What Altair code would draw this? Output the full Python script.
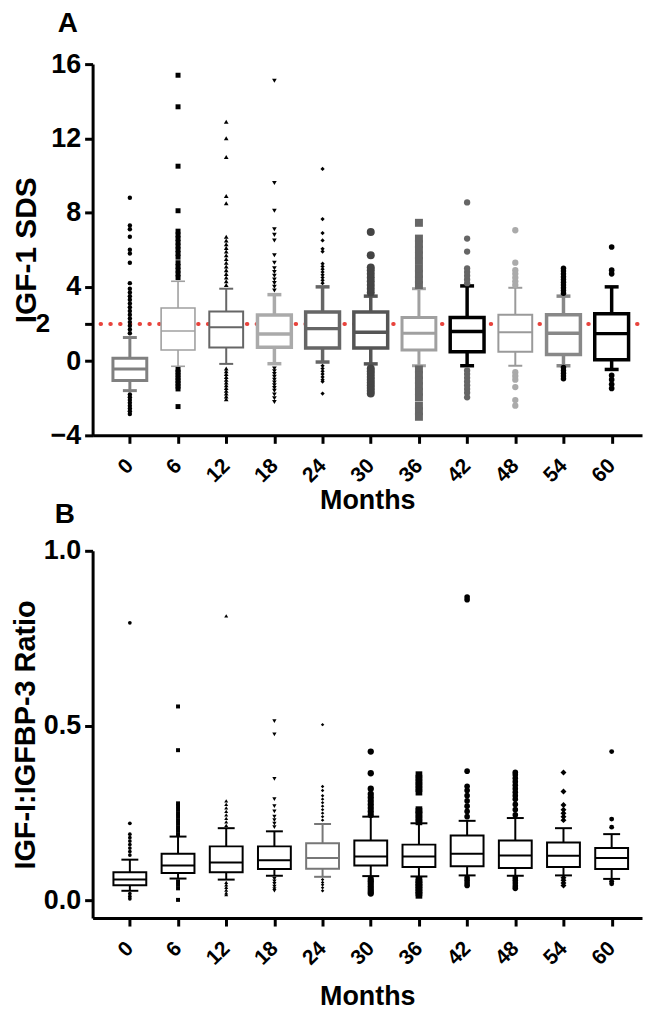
import altair as alt
import pandas as pd

months = [0, 6, 12, 18, 24, 30, 36, 42, 48, 54, 60]

# ---------- Panel A: IGF-1 SDS ----------
a_q1 = [-1.05, 0.60, 0.73, 0.75, 0.70, 0.70, 0.60, 0.50, 0.50, 0.36, 0.07]
a_med = [-0.42, 1.62, 1.82, 1.46, 1.75, 1.55, 1.50, 1.60, 1.55, 1.50, 1.48]
a_q3 = [0.15, 2.86, 2.67, 2.48, 2.65, 2.65, 2.35, 2.35, 2.50, 2.50, 2.55]
a_wlo = [-1.59, -0.28, -0.15, -0.14, -0.05, -0.15, -0.25, -0.25, -0.25, -0.25, -0.45]
a_whi = [1.27, 4.30, 3.90, 3.58, 4.00, 3.50, 3.90, 4.05, 3.95, 3.50, 4.00]
a_box_color = ["#808080", "#a0a0a0", "#666666", "#aaaaaa", "#666666", "#555555",
               "#a0a0a0", "#000000", "#9a9a9a", "#888888", "#000000"]
a_box_width = [3, 1.6, 2, 3.5, 3.5, 3.5, 3, 3.5, 2, 3.5, 3.5]
a_out_shape = ["circle", "square", "triangle-up", "triangle-down", "diamond", "circle",
               "square", "circle", "circle", "circle", "circle"]
a_out_color = ["#000000", "#000000", "#000000", "#000000", "#000000", "#444444",
               "#666666", "#666666", "#aaaaaa", "#000000", "#000000"]
a_out_size = [20, 25, 22, 22, 18, 64, 64, 40, 40, 30, 32]
a_outliers = [
    [1.5, 1.7, 1.9, 2.1, 2.3, 2.5, 2.7, 2.9, 3.1, 3.3, 3.5, 3.7, 3.9, 4.2, 5.3, 5.8, 6.0, 6.7, 7.1, 7.3, 8.8,
     -1.8, -1.95, -2.1, -2.25, -2.4, -2.55, -2.7, -2.85],
    [4.5, 4.7, 4.9, 5.1, 5.3, 5.6, 5.8, 6.0, 6.2, 6.4, 6.6, 6.8, 7.0, 8.1, 10.5, 13.7, 15.4,
     -0.45, -0.6, -0.75, -0.9, -1.05, -1.2, -1.35, -1.5, -2.45],
    [4.1, 4.3, 4.5, 4.7, 4.9, 5.1, 5.3, 5.5, 5.7, 5.9, 6.1, 6.3, 6.5, 6.7, 8.5, 8.9, 11.0, 12.0, 12.9,
     -0.4, -0.55, -0.7, -0.85, -1.0, -1.15, -1.3, -1.45, -1.6, -1.75, -1.9, -2.05],
    [3.8, 4.0, 4.2, 4.4, 4.6, 4.8, 5.0, 5.3, 5.7, 6.5, 6.8, 7.1, 8.1, 9.6, 15.1,
     -0.4, -0.55, -0.7, -0.85, -1.0, -1.15, -1.3, -1.45, -1.6, -1.8, -2.0, -2.2],
    [4.2, 4.35, 4.5, 4.65, 4.8, 4.95, 5.1, 5.25, 5.9, 6.05, 6.5, 6.9, 7.65, 10.35,
     -0.25, -0.4, -0.55, -0.7, -0.85, -1.0, -1.1, -1.75],
    [3.7, 3.9, 4.1, 4.3, 4.5, 4.7, 4.9, 5.05, 5.7, 6.95,
     -0.4, -0.55, -0.7, -0.85, -1.0, -1.15, -1.3, -1.45, -1.6, -1.75],
    [4.1, 4.4, 4.7, 5.0, 5.4, 5.7, 6.0, 6.3, 6.6, 7.45,
     -0.45, -0.75, -1.05, -1.35, -1.65, -1.95, -2.4, -2.7, -3.0],
    [4.2, 4.4, 4.6, 4.8, 5.0, 5.9, 6.6, 8.55,
     -0.5, -0.7, -0.9, -1.1, -1.3, -1.5, -1.7, -1.95],
    [4.1, 4.3, 4.5, 4.7, 4.9, 5.3, 7.05,
     -0.6, -0.8, -1.0, -1.4, -2.1, -2.4],
    [3.65, 3.8, 3.95, 4.1, 4.25, 4.4, 4.55, 4.7, 4.85, 5.0,
     -0.35, -0.5, -0.65, -0.8, -0.95],
    [4.7, 4.9, 6.15, -0.77, -1.0, -1.25, -1.47],
]
a_ticks = [-4, 0, 2, 4, 8, 12, 16]

# ---------- Panel B: IGF-I:IGFBP-3 ratio ----------
b_q1 = [0.044, 0.079, 0.081, 0.090, 0.091, 0.100, 0.096, 0.098, 0.093, 0.096, 0.090]
b_med = [0.060, 0.100, 0.109, 0.115, 0.122, 0.126, 0.126, 0.134, 0.129, 0.128, 0.122]
b_q3 = [0.081, 0.134, 0.155, 0.155, 0.164, 0.172, 0.160, 0.186, 0.172, 0.166, 0.150]
b_wlo = [0.028, 0.063, 0.060, 0.071, 0.068, 0.070, 0.069, 0.072, 0.071, 0.072, 0.062]
b_whi = [0.117, 0.183, 0.207, 0.198, 0.219, 0.240, 0.221, 0.228, 0.236, 0.207, 0.190]
b_box_color = ["#000000", "#000000", "#000000", "#000000", "#777777", "#000000",
               "#000000", "#000000", "#000000", "#000000", "#000000"]
b_box_width = [2, 2, 2, 2, 2, 2, 2, 2, 2, 2, 2]
b_out_shape = ["circle", "square", "triangle-up", "triangle-down", "diamond", "circle",
               "square", "circle", "circle", "diamond", "circle"]
b_out_color = ["#000000"] * 11
b_out_size = [14, 16, 16, 18, 12, 40, 45, 32, 32, 36, 24]
b_outliers = [
    [0.13, 0.14, 0.15, 0.16, 0.17, 0.18, 0.19, 0.221, 0.794, 0.02, 0.012, 0.005],
    [0.19, 0.20, 0.21, 0.22, 0.23, 0.24, 0.25, 0.26, 0.27, 0.278, 0.43, 0.555,
     0.055, 0.045, 0.035, 0.002],
    [0.215, 0.225, 0.235, 0.245, 0.255, 0.265, 0.275, 0.285, 0.814,
     0.052, 0.045, 0.038, 0.03, 0.022, 0.017],
    [0.21, 0.22, 0.23, 0.24, 0.255, 0.27, 0.29, 0.348, 0.475, 0.513,
     0.062, 0.055, 0.048, 0.04, 0.033, 0.028],
    [0.23, 0.24, 0.25, 0.26, 0.27, 0.28, 0.29, 0.30, 0.315, 0.326, 0.503,
     0.06, 0.052, 0.045, 0.037, 0.028],
    [0.245, 0.255, 0.265, 0.275, 0.285, 0.295, 0.305, 0.32, 0.364, 0.426,
     0.062, 0.055, 0.048, 0.04, 0.033, 0.026, 0.02],
    [0.225, 0.235, 0.245, 0.255, 0.26, 0.31, 0.32, 0.33, 0.34, 0.35, 0.36,
     0.06, 0.052, 0.045, 0.038, 0.03, 0.022, 0.015],
    [0.24, 0.255, 0.27, 0.285, 0.30, 0.315, 0.327, 0.37, 0.86, 0.868,
     0.065, 0.058, 0.05, 0.043],
    [0.245, 0.26, 0.275, 0.29, 0.30, 0.31, 0.32, 0.33, 0.34, 0.35, 0.36, 0.367,
     0.065, 0.058, 0.05, 0.042, 0.035],
    [0.23, 0.24, 0.25, 0.26, 0.273, 0.312, 0.366, 0.065, 0.058, 0.05, 0.043],
    [0.21, 0.233, 0.426, 0.055, 0.048],
]
b_ticks = [0, 0.5, 1.0]

FONT = "Liberation Sans"
W = 552


def panel(q1, med, q3, wlo, whi, bcol, bw, oshape, ocol, osize, outl,
          ydom, yvals, yfmt, ytitle, tsize, tpad, xtpad, h, boxw, capw,
          letter, letter_xy, extra2):
    box = pd.DataFrame({"month": months, "q1": q1, "med": med, "q3": q3,
                        "wlo": wlo, "whi": whi, "col": bcol, "sw": bw})
    rows = []
    for i, m in enumerate(months):
        for v in outl[i]:
            rows.append({"month": m, "v": v, "shape": oshape[i],
                         "col": ocol[i], "size": osize[i]})
    out = pd.DataFrame(rows)

    xs = alt.Scale(domain=[-4.02, 63.16], nice=False, zero=False)
    ys = alt.Scale(domain=ydom, nice=False, zero=False)
    x_axis = alt.Axis(values=months, labelAngle=-45, labelAlign="right",
                      labelBaseline="middle", title="Months", grid=False,
                      titlePadding=xtpad, labelPadding=19)
    lab_expr = "datum.value == 2 ? '' : datum.label" if extra2 else "datum.label"
    y_axis = alt.Axis(values=yvals, format=yfmt, title=ytitle, grid=False,
                      titlePadding=tpad, titleFontSize=tsize, labelExpr=lab_expr)

    def X():
        return alt.X("month:Q", scale=xs, axis=x_axis)

    def Y(f):
        return alt.Y(f, scale=ys, axis=y_axis)

    whisk = alt.Chart(box).mark_rule().encode(
        x=X(), y=Y("wlo:Q"), y2="whi:Q",
        color=alt.Color("col:N", scale=None),
        strokeWidth=alt.StrokeWidth("sw:Q", scale=None),
    )
    bx = alt.Chart(box).mark_bar(size=boxw, fill="white", orient="vertical").encode(
        x=X(), y=Y("q1:Q"), y2="q3:Q",
        stroke=alt.Stroke("col:N", scale=None),
        strokeWidth=alt.StrokeWidth("sw:Q", scale=None),
    )
    medl = alt.Chart(box).mark_rule(xOffset=-boxw / 2, x2Offset=boxw / 2).encode(
        x=X(), x2="month:Q", y=Y("med:Q"),
        color=alt.Color("col:N", scale=None),
        strokeWidth=alt.StrokeWidth("sw:Q", scale=None),
    )
    caplo = alt.Chart(box).mark_rule(xOffset=-capw / 2, x2Offset=capw / 2).encode(
        x=X(), x2="month:Q", y=Y("wlo:Q"),
        color=alt.Color("col:N", scale=None),
        strokeWidth=alt.StrokeWidth("sw:Q", scale=None),
    )
    caphi = alt.Chart(box).mark_rule(xOffset=-capw / 2, x2Offset=capw / 2).encode(
        x=X(), x2="month:Q", y=Y("whi:Q"),
        color=alt.Color("col:N", scale=None),
        strokeWidth=alt.StrokeWidth("sw:Q", scale=None),
    )
    pts = alt.Chart(out).mark_point(filled=True, opacity=1).encode(
        x=X(), y=Y("v:Q"),
        shape=alt.Shape("shape:N", scale=None),
        color=alt.Color("col:N", scale=None),
        size=alt.Size("size:Q", scale=None),
    )
    lab = alt.Chart(pd.DataFrame({"t": [letter]})).mark_text(
        font=FONT, fontWeight="bold", fontSize=28, align="center", baseline="top"
    ).encode(text="t:N", x=alt.value(letter_xy[0]), y=alt.value(letter_xy[1]))
    # transparent guide that reserves room on the left for the rotated title glyphs
    room = alt.Chart(pd.DataFrame({"t": [0]})).mark_rule(opacity=0).encode(
        x=alt.value(-85), y=alt.value(0), y2=alt.value(2))
    layers = [whisk, bx, medl, caplo, caphi, pts, lab, room]
    if extra2:
        ref = alt.Chart(pd.DataFrame({"y": [2]})).mark_rule(
            color="#e8433c", strokeWidth=4, strokeDash=[0.5, 9.3], strokeCap="round"
        ).encode(y=Y("y:Q"), x=alt.value(8), x2=alt.value(W))
        two = alt.Chart(pd.DataFrame({"y": [2], "t": ["2"]})).mark_text(
            font=FONT, fontWeight="bold", fontSize=26, align="center", baseline="middle"
        ).encode(y=Y("y:Q"), x=alt.value(-50), text="t:N")
        layers = [ref] + layers + [two]
    return alt.layer(*layers).properties(width=W, height=h)


pA = panel(a_q1, a_med, a_q3, a_wlo, a_whi, a_box_color, a_box_width, a_out_shape,
           a_out_color, a_out_size, a_outliers, [-4, 16], a_ticks, "d",
           "IGF-1 SDS", 30, 9, 2, 373, 34, 14, "A", (-25, -54), True)
pB = panel(b_q1, b_med, b_q3, b_wlo, b_whi, b_box_color, b_box_width, b_out_shape,
           b_out_color, b_out_size, b_outliers, [-0.05, 1.0], b_ticks, ".1f",
           "IGF-I:IGFBP-3 Ratio", 29, 3, 15, 369, 33, 17, "B", (-28, -50), False)

chart = alt.vconcat(pA, pB, spacing=116, bounds="flush").configure_view(
    stroke=None
).configure_axis(
    domainColor="black", domainWidth=3, tickColor="black", tickWidth=3, tickSize=8,
    labelFont=FONT, labelFontWeight="bold", labelFontSize=27, labelColor="black",
    titleFont=FONT, titleFontWeight="bold", titleColor="black",
    labelPadding=4,
).configure_axisX(labelFontSize=21, titleFontSize=27).properties(
    padding={"left": 0, "top": 0, "right": 0, "bottom": 0}
)

chart.save("out.html", embed_options={"renderer": "svg", "actions": False})
